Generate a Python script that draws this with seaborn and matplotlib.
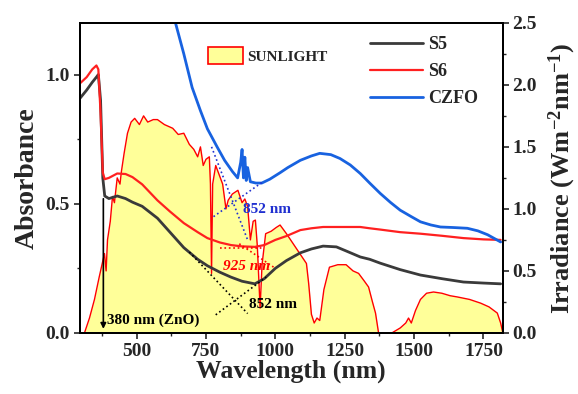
import numpy as np
import seaborn as sns
import matplotlib.pyplot as plt
from matplotlib.patches import Patch
from matplotlib.ticker import MultipleLocator

sns.set_style('ticks')
plt.rcParams['font.family'] = ['Liberation Serif', 'DejaVu Serif']
plt.rcParams['font.weight'] = 'bold'
plt.rcParams['mathtext.default'] = 'regular'

# absorbance spectra (S5, S6 share the same wavelength grid)
wl = [295, 320, 340, 355, 362, 370, 378, 385, 400, 430, 460, 485, 520, 575, 620, 670,
      720, 755, 800, 840, 880, 926, 960, 1000, 1040, 1090, 1130, 1172, 1220, 1260,
      1306, 1340, 1378, 1450, 1523, 1600, 1678, 1750, 1812]
s5 = [0.907, 0.94, 0.97, 0.99, 1.0, 0.9, 0.6, 0.53, 0.52, 0.53, 0.52, 0.506, 0.49, 0.444,
      0.39, 0.33, 0.285, 0.26, 0.235, 0.216, 0.2, 0.19, 0.21, 0.25, 0.28, 0.31, 0.325,
      0.336, 0.333, 0.315, 0.294, 0.285, 0.27, 0.245, 0.224, 0.21, 0.197, 0.193, 0.19]
s6 = [0.965, 0.99, 1.02, 1.035, 1.02, 0.85, 0.62, 0.595, 0.6, 0.617, 0.615, 0.603, 0.575,
      0.513, 0.47, 0.425, 0.39, 0.367, 0.35, 0.34, 0.335, 0.333, 0.34, 0.36, 0.375, 0.398,
      0.405, 0.41, 0.41, 0.41, 0.41, 0.405, 0.4, 0.39, 0.384, 0.376, 0.367, 0.362, 0.36]

wl_czfo = [630, 670, 700, 730, 755, 790, 817, 845, 864, 875, 880, 885, 890, 895, 900, 910,
           930, 951, 980, 1017, 1045, 1090, 1130, 1160, 1200, 1233, 1270, 1306, 1340,
           1378, 1415, 1450, 1490, 1523, 1560, 1595, 1640, 1692, 1730, 1765, 1812]
czfo = [1.24, 1.08, 0.95, 0.86, 0.79, 0.72, 0.668, 0.625, 0.6, 0.66, 0.71, 0.6, 0.68, 0.59,
        0.64, 0.585, 0.58, 0.58, 0.595, 0.62, 0.64, 0.668, 0.685, 0.695, 0.69, 0.675, 0.65,
        0.617, 0.58, 0.54, 0.505, 0.475, 0.45, 0.43, 0.418, 0.41, 0.408, 0.405, 0.395,
        0.38, 0.352]

# solar irradiance (right axis)
wl_sun = [300, 312, 330, 348, 365, 375, 384, 390, 395, 405, 413, 420, 430, 440, 445, 455,
          467, 480, 493, 510, 525, 540, 560, 575, 600, 630, 650, 670, 690, 706, 720, 730,
          740, 750, 762, 766, 770, 774, 785, 795, 810, 822, 830, 845, 865, 880, 890, 900,
          910, 920, 928, 935, 945, 952, 965, 985, 1003, 1017, 1040, 1070, 1100, 1112, 1120,
          1130, 1140, 1150, 1160, 1175, 1195, 1225, 1255, 1280, 1300, 1320, 1336, 1350,
          1361, 1372, 1420, 1450, 1470, 1480, 1490, 1505, 1523, 1545, 1570, 1600, 1630,
          1656, 1700, 1740, 1770, 1800, 1812, 1820]
irr_sun = [0, 0, 0.12, 0.27, 0.45, 0.55, 0.64, 0.5, 0.75, 0.9, 1.1, 1.05, 1.25, 1.2, 1.3,
           1.45, 1.61, 1.7, 1.73, 1.68, 1.75, 1.7, 1.72, 1.72, 1.68, 1.65, 1.6, 1.61, 1.52,
           1.48, 1.42, 1.5, 1.35, 1.4, 1.42, 1.2, 0.48, 1.2, 1.35, 1.29, 1.2, 1.0, 1.07, 1.12,
           1.15, 1.05, 1.08, 1.02, 0.75, 0.9, 0.91, 0.7, 0.2, 0.55, 0.8, 0.82, 0.85, 0.87,
           0.8, 0.7, 0.6, 0.56, 0.4, 0.15, 0.08, 0.12, 0.1, 0.35, 0.53, 0.55, 0.55, 0.5,
           0.48, 0.42, 0.37, 0.25, 0.16, 0.0, 0.0, 0.04, 0.08, 0.12, 0.08, 0.18, 0.27, 0.32,
           0.33, 0.32, 0.3, 0.29, 0.27, 0.24, 0.21, 0.16, 0.08, 0.0]

# tangent guide lines: (x0, x1), (y0, y1)
tan_czfo = [((770, 900), (0.72, 0.36)), ((777, 955), (0.45, 0.585))]
tan_s6 = [((800, 960), (0.33, 0.33)), ((870, 1000), (0.345, 0.25))]
tan_s5 = [((690, 900), (0.313, 0.075)), ((785, 967), (0.07, 0.216))]

c_s5, c_s6, c_czfo = '#3a3a3a', '#ff2020', '#1862e0'

fig = plt.figure(figsize=(5.78, 3.94), dpi=100)
ax = fig.add_axes([0.138, 0.155, 0.732, 0.787])
ax2 = ax.twinx()
ax.set_zorder(ax2.get_zorder() + 1)
ax.patch.set_visible(False)

ax2.fill_between(wl_sun, irr_sun, color='#ffff99', lw=0)
sns.lineplot(x=wl_sun, y=irr_sun, ax=ax2, color='red', lw=1.0, legend=False)

sns.lineplot(x=wl, y=s5, ax=ax, color=c_s5, lw=2.0, label='S5')
sns.lineplot(x=wl, y=s6, ax=ax, color=c_s6, lw=1.6, label='S6')
sns.lineplot(x=wl_czfo, y=czfo, ax=ax, color=c_czfo, lw=2.0, label='CZFO')

for (xs, ys) in tan_czfo:
    ax.plot(xs, ys, ls=':', color='#2030d0', lw=1.2)
for (xs, ys) in tan_s6:
    ax.plot(xs, ys, ls=':', color='red', lw=1.2)
for (xs, ys) in tan_s5:
    ax.plot(xs, ys, ls=':', color='black', lw=1.2)

ax.annotate('', xy=(380, 0.005), xytext=(380, 0.53),
            arrowprops=dict(arrowstyle='-|>', color='black', lw=1.2, mutation_scale=8))
ax.text(392, 0.035, '380 nm (ZnO)', fontsize=11, color='black', fontweight='bold')
ax.text(885, 0.465, '852 nm', fontsize=11, color='#2030d0', fontweight='bold')
ax.text(810, 0.245, '925 nm', fontsize=11, color='red', fontweight='bold', style='italic')
ax.text(905, 0.095, '852 nm', fontsize=11, color='black', fontweight='bold')

ax.set_xlim(295, 1820)
ax.set_ylim(0, 1.2)
ax2.set_ylim(0, 2.5)
ax.xaxis.set_major_locator(MultipleLocator(250))
ax.xaxis.set_minor_locator(MultipleLocator(125))
ax.yaxis.set_major_locator(MultipleLocator(0.5))
ax.yaxis.set_minor_locator(MultipleLocator(0.25))
ax2.yaxis.set_major_locator(MultipleLocator(0.5))
ax2.yaxis.set_minor_locator(MultipleLocator(0.25))
ax.set_xticks([500, 750, 1000, 1250, 1500, 1750])

for a in (ax, ax2):
    a.tick_params(which='major', length=4, width=1.2, labelsize=14, direction='out', pad=3)
    a.tick_params(which='minor', length=2.5, width=1.0, direction='out')
    for sp in a.spines.values():
        sp.set_linewidth(1.4)
        sp.set_color('black')
for lab in ax.get_xticklabels() + ax.get_yticklabels() + ax2.get_yticklabels():
    lab.set_fontweight('bold')
ax.yaxis.set_major_formatter(plt.FormatStrFormatter('%.1f'))
ax2.yaxis.set_major_formatter(plt.FormatStrFormatter('%.1f'))

ax.set_xlabel('Wavelength (nm)', fontsize=18.5, fontweight='bold', labelpad=0)
ax.set_ylabel('Absorbance', fontsize=20, fontweight='bold', labelpad=4)
ax2.set_ylabel('Irradiance (Wm$^{-2}$nm$^{-1}$)', fontsize=19, fontweight='bold', labelpad=7)

leg = ax.legend(loc='upper right', bbox_to_anchor=(0.98, 1.01), frameon=False,
                fontsize=13, handlelength=2.9, labelspacing=0.55, handletextpad=0.3)
for t in leg.get_texts():
    t.set_fontweight('bold')
ax2.legend(handles=[Patch(facecolor='#ffff99', edgecolor='red', lw=1.2)], labels=['SUNLIGHT'],
           loc='upper left', bbox_to_anchor=(0.27, 0.965), frameon=False,
           handlelength=2.3, handleheight=1.25, handletextpad=0.3,
           prop={'weight': 'bold', 'size': 11})

fig.savefig('out.png', dpi=100)
